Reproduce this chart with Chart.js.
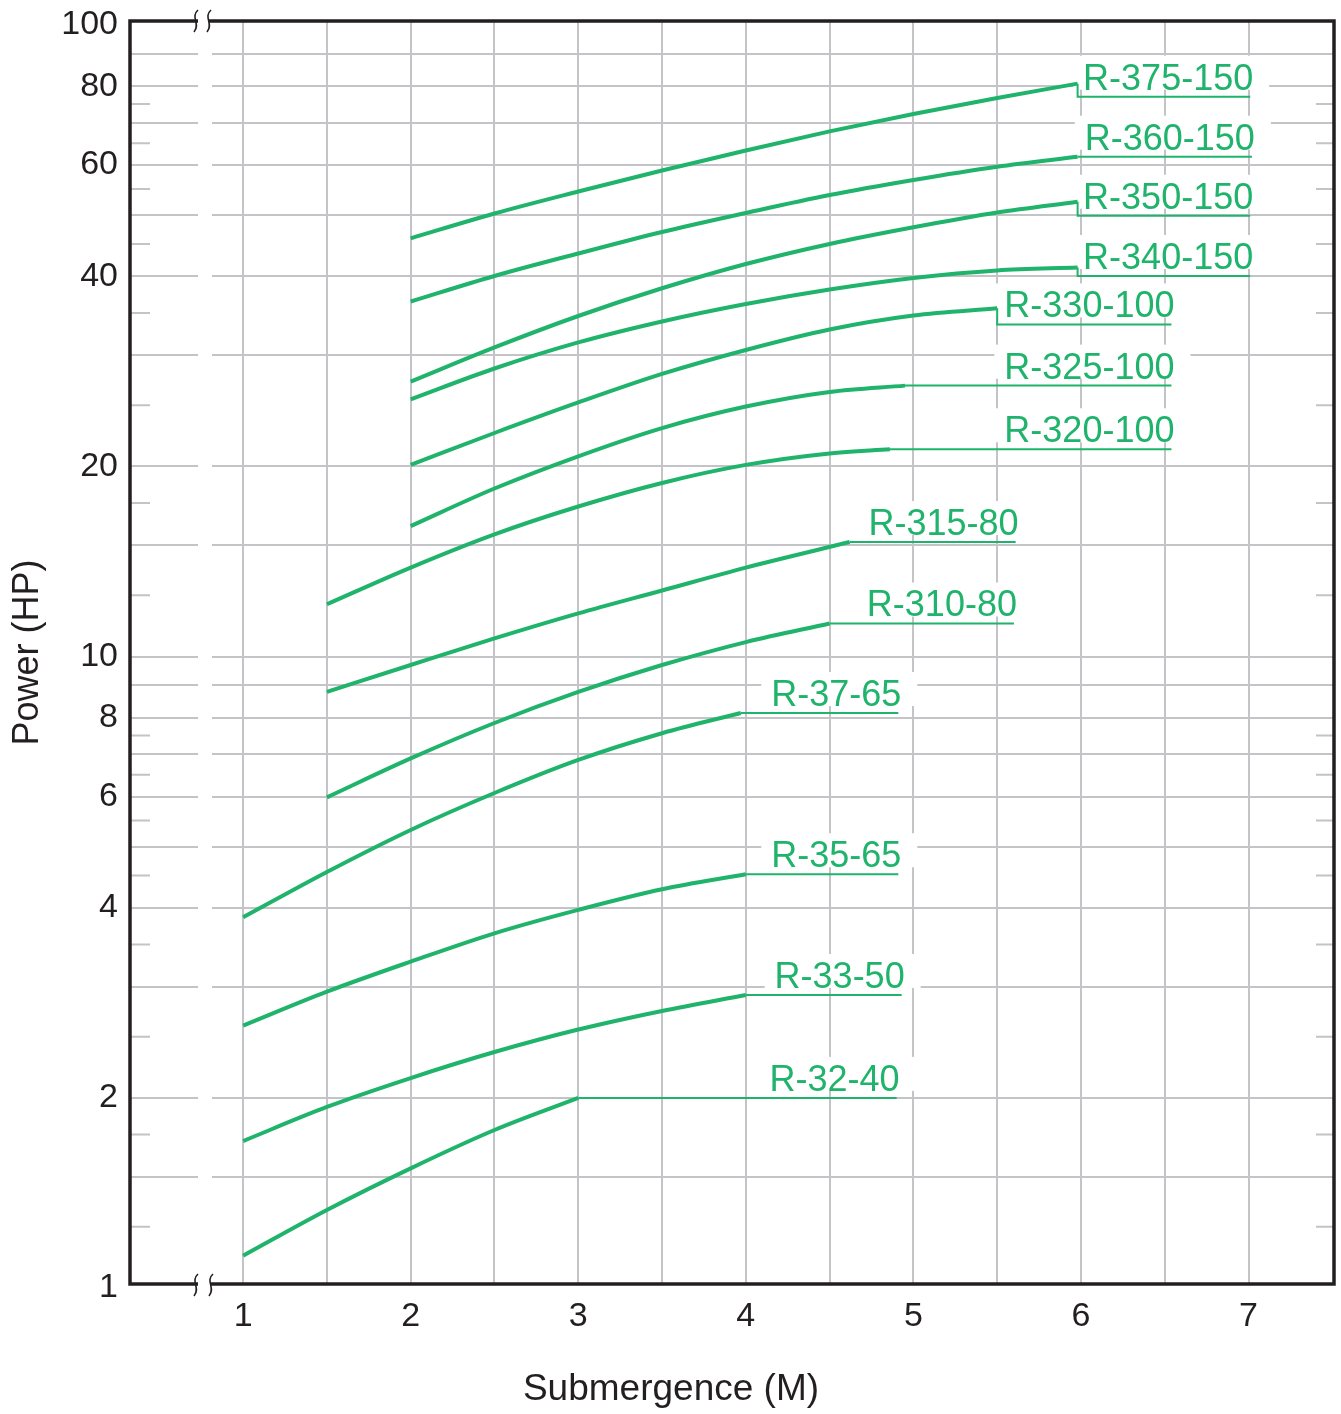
<!DOCTYPE html>
<html>
<head>
<meta charset="utf-8">
<script src="https://cdn.jsdelivr.net/npm/chart.js@4.4.1/dist/chart.umd.min.js"></script>
<style>
    html, body { margin: 0; padding: 0; background: #fff; }
    #wrap { width: 1341px; height: 1414px; position: relative; }
</style>
</head>
<body>
<div id="wrap"><canvas id="chart"></canvas></div>
<script>
(() => {
    const green = "#1fb36b";
    const ink = "#231f20";
    const gridGray = "#c4c4c8";
    const font = "'Liberation Sans', Arial, Helvetica, sans-serif";

    // pump models, bottom to top
    const models = ["R-32-40", "R-33-50", "R-35-65", "R-37-65", "R-310-80", "R-315-80",
        "R-320-100", "R-325-100", "R-330-100", "R-340-150", "R-350-150", "R-360-150", "R-375-150"];

    // [submergence (M), power (HP)]
    const r32_40 = [[1, 1.125], [1.5, 1.329], [2, 1.547], [2.5, 1.779], [3, 2.0]];
    const r33_50 = [[1, 1.709], [1.5, 1.935], [2, 2.150], [2.5, 2.364], [3, 2.566], [3.5, 2.746], [4, 2.911]];
    const r35_65 = [[1, 2.603], [1.5, 2.946], [2, 3.287], [2.5, 3.645], [3, 3.97], [3.5, 4.28], [4, 4.52]];
    const r37_65 = [[1, 3.864], [1.5, 4.558], [2, 5.313], [2.5, 6.079], [3, 6.858], [3.5, 7.56], [3.97, 8.138]];
    const r310_80 = [[1.5, 5.984], [2, 6.896], [2.5, 7.847], [3, 8.787], [3.5, 9.694], [4, 10.54], [4.5, 11.28]];
    const r315_80 = [[1.5, 8.787], [2, 9.694], [2.5, 10.68], [3, 11.70], [3.5, 12.72], [4, 13.83], [4.62, 15.18]];
    const r320_100 = [[1.5, 12.10], [2, 13.83], [2.5, 15.61], [3, 17.28], [3.5, 18.83], [4, 20.11], [4.5, 20.97], [4.86, 21.29]];
    const r325_100 = [[2, 16.09], [2.5, 18.45], [3, 20.75], [3.5, 23.0], [4, 24.88], [4.5, 26.24], [4.95, 26.85]];
    const r330_100 = [[2, 20.11], [2.5, 22.59], [3, 25.25], [3.5, 28.02], [4, 30.58], [4.5, 32.95], [5, 34.67], [5.5, 35.59]];
    const r340_150 = [[2, 25.54], [2.5, 28.58], [3, 31.43], [3.5, 33.93], [4, 36.16], [4.5, 38.12], [5, 39.76], [5.5, 40.87], [5.98, 41.3]];
    const r350_150 = [[2, 27.24], [2.5, 30.86], [3, 34.61], [3.5, 38.29], [4, 41.83], [4.5, 45.01], [5, 47.83], [5.5, 50.48], [5.98, 52.51]];
    const r360_150 = [[2, 36.49], [2.5, 40.05], [3, 43.47], [3.5, 47.02], [4, 50.39], [4.5, 53.8], [5, 56.84], [5.5, 59.65], [5.98, 61.86]];
    const r375_150 = [[2, 45.94], [2.5, 50.29], [3, 54.49], [3.5, 58.84], [4, 63.29], [4.5, 67.84], [5, 72.29], [5.5, 76.63], [5.98, 80.75]];

    const curves = [r32_40, r33_50, r35_65, r37_65, r310_80, r315_80,
        r320_100, r325_100, r330_100, r340_150, r350_150, r360_150, r375_150];

    // label leader: power level of the underline and where it stops on the x axis
    const leaderHP = [2.0, 2.911, 4.52, 8.138, 11.28, 15.18, 21.29, 26.85, 33.56, 40.05, 49.89, 61.86, 77.0];
    const leaderEnd = [4.90, 4.93, 4.91, 4.91, 5.60, 5.61, 6.54, 6.54, 6.54, 7.01, 7.01, 7.02, 7.01];

    const xTicks = [1, 1.5, 2, 2.5, 3, 3.5, 4, 4.5, 5, 5.5, 6, 6.5, 7];
    const yGridLong = [1.5, 2, 3, 4, 5, 6, 7, 8, 9, 10, 15, 20, 30, 40, 50, 60, 70, 80, 90];
    const yGridShort = [1.25, 1.75, 2.5, 3.5, 4.5, 5.5, 6.5, 7.5, 12.5, 17.5, 25, 35, 45, 55, 65, 75];
    const yLabels = [1, 2, 4, 6, 8, 10, 20, 40, 60, 80, 100];

    // the frame sits a hair outside 1 and 100
    const yMin = 1.0147;
    const yMax = 101.47;

    const toPoints = (pairs) => pairs.map(([x, y]) => ({ x, y }));

    const datasets = [];
    curves.forEach((pairs) => {
        datasets.push({
            data: toPoints(pairs),
            borderColor: green,
            borderWidth: 4,
            pointRadius: 0,
            cubicInterpolationMode: "monotone",
            fill: false
        });
    });
    curves.forEach((pairs, i) => {
        const [ex, ey] = pairs[pairs.length - 1];
        datasets.push({
            data: [{ x: ex, y: ey }, { x: ex, y: leaderHP[i] }, { x: leaderEnd[i], y: leaderHP[i] }],
            borderColor: green,
            borderWidth: 2,
            pointRadius: 0,
            tension: 0,
            fill: false
        });
    });

    const labelFont = `36px ${font}`;

    const labelBox = (ctx, chart, i) => {
        const xs = chart.scales.x;
        const ys = chart.scales.y;
        ctx.font = labelFont;
        const w = ctx.measureText(models[i]).width;
        const right = xs.getPixelForValue(leaderEnd[i]) + 3;
        const base = ys.getPixelForValue(leaderHP[i]) - 7;
        return { right, left: right - w, base };
    };

    const squiggle = (ctx, x, y) => {
        ctx.beginPath();
        ctx.moveTo(x + 2, y - 11);
        ctx.bezierCurveTo(x - 6, y - 4, x + 5, y + 3, x - 2, y + 11);
        ctx.stroke();
    };

    const decor = {
        id: "decor",
        beforeDatasetsDraw(chart) {
            const { ctx, chartArea: a } = chart;
            const ys = chart.scales.y;
            ctx.save();
            // axis break gap through the grid
            ctx.fillStyle = "#fff";
            ctx.fillRect(198, a.top, 14, a.bottom - a.top);
            // short ticks at both sides
            ctx.strokeStyle = gridGray;
            ctx.lineWidth = 2;
            yGridShort.forEach((v) => {
                const y = ys.getPixelForValue(v);
                ctx.beginPath();
                ctx.moveTo(a.left, y);
                ctx.lineTo(a.left + 20, y);
                ctx.moveTo(a.right - 18, y);
                ctx.lineTo(a.right, y);
                ctx.stroke();
            });
            // white boxes behind labels
            ctx.fillStyle = "#fff";
            models.forEach((_, i) => {
                const b = labelBox(ctx, chart, i);
                ctx.fillRect(b.left - 10, b.base - 34, b.right - b.left + 26, 34);
            });
            ctx.restore();
        },
        afterDatasetsDraw(chart) {
            const { ctx, chartArea: a } = chart;
            ctx.save();
            // labels
            ctx.fillStyle = green;
            ctx.font = labelFont;
            ctx.textAlign = "right";
            ctx.textBaseline = "alphabetic";
            models.forEach((name, i) => {
                const b = labelBox(ctx, chart, i);
                ctx.fillText(name, b.right, b.base);
            });
            // frame
            ctx.strokeStyle = ink;
            ctx.lineWidth = 3.5;
            ctx.strokeRect(a.left, a.top, a.right - a.left, a.bottom - a.top);
            // break marks on top and bottom borders
            ctx.fillStyle = "#fff";
            ctx.fillRect(198, a.top - 3, 11, 6);
            ctx.fillRect(198, a.bottom - 3, 12, 6);
            ctx.lineWidth = 1.6;
            squiggle(ctx, 196, a.top);
            squiggle(ctx, 209, a.top);
            squiggle(ctx, 196, a.bottom + 1);
            squiggle(ctx, 211, a.bottom + 1);
            // x axis title
            ctx.fillStyle = ink;
            ctx.font = `37px ${font}`;
            ctx.textAlign = "center";
            ctx.textBaseline = "middle";
            ctx.fillText("Submergence (M)", 671, 1390);
            ctx.restore();
        }
    };

    new Chart(document.getElementById("chart"), {
        type: "line",
        data: { datasets },
        options: {
            responsive: true,
            maintainAspectRatio: false,
            animation: false,
            layout: { padding: { top: 21, right: 7, left: 0, bottom: 0 } },
            plugins: {
                legend: { display: false },
                tooltip: { enabled: false }
            },
            scales: {
                x: {
                    type: "linear",
                    min: 0.325,
                    max: 7.51,
                    afterBuildTicks: (scale) => {
                        scale.ticks = xTicks.map((value) => ({ value }));
                    },
                    afterFit: (scale) => {
                        scale.height = 130;
                        scale.paddingLeft = 0;
                        scale.paddingRight = 0;
                    },
                    border: { display: false },
                    grid: {
                        color: gridGray,
                        lineWidth: 2,
                        drawTicks: false
                    },
                    ticks: {
                        autoSkip: false,
                        maxRotation: 0,
                        padding: 12,
                        color: ink,
                        font: { family: font, size: 34 },
                        callback: (value) => (Number.isInteger(value) ? String(value) : "")
                    }
                },
                y: {
                    type: "logarithmic",
                    min: yMin,
                    max: yMax,
                    afterBuildTicks: (scale) => {
                        const all = [...new Set([...yLabels, ...yGridLong])].sort((p, q) => p - q);
                        scale.ticks = all.map((value) => ({ value }));
                    },
                    afterFit: (scale) => {
                        scale.width = 130;
                        scale.paddingTop = 0;
                        scale.paddingBottom = 0;
                    },
                    border: { display: false },
                    grid: {
                        color: (c) => (c.tick && yGridLong.includes(c.tick.value) ? gridGray : "rgba(0,0,0,0)"),
                        lineWidth: 2,
                        drawTicks: false
                    },
                    ticks: {
                        autoSkip: false,
                        padding: 12,
                        color: ink,
                        font: { family: font, size: 34 },
                        callback: (value) => (yLabels.includes(value) ? String(value) : "")
                    },
                    title: {
                        display: true,
                        text: "Power (HP)",
                        color: ink,
                        font: { family: font, size: 36 },
                        padding: { top: 6, bottom: 0 }
                    }
                }
            }
        },
        plugins: [decor]
    });
})();
</script>
</body>
</html>
